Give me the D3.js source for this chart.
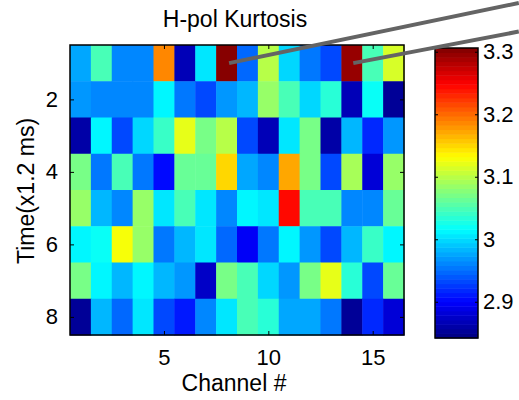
<!DOCTYPE html>
<html>
<head>
<meta charset="utf-8">
<script src="https://cdn.jsdelivr.net/npm/d3@7"></script>
<style>
  body { margin: 0; background: #fff; }
  svg { display: block; }
  text { font-family: "Liberation Sans", Arial, sans-serif; fill: #000; }
</style>
</head>
<body>
<div id="chart"></div>
<script>

// channels along x, time samples along y
var channels = d3.range(1, 17);
var times = d3.range(1, 9);

// kurtosis values, one row per time sample (row 1 = top)
var row1 = [2.977, 3.051, 2.958, 2.963, 3.185, 2.870, 3.002, 3.306, 2.944, 3.102, 2.995, 2.953, 2.935, 3.292, 3.051, 3.111];
var row2 = [2.967, 2.958, 2.958, 2.958, 3.016, 2.953, 2.935, 2.967, 2.986, 3.088, 3.051, 2.995, 3.032, 2.865, 3.018, 2.851];
var row3 = [2.861, 3.016, 2.935, 2.995, 3.042, 3.120, 3.069, 3.102, 2.930, 2.870, 3.004, 3.069, 2.861, 2.986, 2.916, 2.967];
var row4 = [3.069, 2.953, 3.051, 2.953, 2.907, 3.060, 3.060, 3.153, 2.977, 2.958, 3.171, 3.069, 2.930, 3.093, 2.879, 3.083];
var row5 = [3.083, 2.981, 2.958, 3.083, 3.002, 3.051, 3.002, 2.963, 3.016, 3.004, 3.241, 3.051, 3.051, 2.963, 2.958, 3.060];
var row6 = [3.011, 3.023, 3.125, 3.088, 2.953, 2.981, 3.002, 2.944, 2.900, 2.953, 3.016, 2.970, 2.935, 2.986, 3.042, 3.011];
var row7 = [3.074, 3.016, 2.986, 3.011, 2.986, 2.970, 2.874, 3.069, 3.051, 2.995, 2.970, 3.069, 3.120, 3.032, 2.935, 3.060];
var row8 = [2.851, 2.986, 2.944, 3.002, 2.935, 2.912, 2.963, 3.002, 3.051, 3.032, 2.977, 2.977, 2.953, 2.851, 2.916, 2.879];
var rows = [row1, row2, row3, row4, row5, row6, row7, row8];

var xTicks = [5, 10, 15];
var yTicks = [2, 4, 6, 8];
var cTicks = [2.9, 3.0, 3.1, 3.2, 3.3];
var cRange = [2.842, 3.306];

// annotation arrows (data units: [channel, time])
var arrow1 = [[8.12, 1.0], [22.0, -0.66]];
var arrow2 = [[14.07, 1.0], [22.0, 0.13]];

var W = 519, H = 400;
var plot = {left: 70, right: 404, top: 45, bottom: 335};
var bar = {left: 435, right: 478, top: 48, bottom: 338};

var svg = d3.select("#chart").append("svg")
    .attr("width", W)
    .attr("height", H);

// set the ranges
var x = d3.scaleLinear().domain([0.5, 16.5]).range([plot.left, plot.right]);
var y = d3.scaleLinear().domain([0.5, 8.5]).range([plot.top, plot.bottom]);
var cy = d3.scaleLinear().domain(cRange).range([bar.bottom, bar.top]);

// matlab jet, 64 levels
function jet(v) {
  var t = (v - cRange[0]) / (cRange[1] - cRange[0]);
  t = Math.max(0, Math.min(1, t));
  t = (Math.min(63, Math.floor(t * 64)) + 0.5) / 64;
  var c = function(k) { return Math.round(255 * Math.max(0, Math.min(1, 1.5 - Math.abs(4 * t - k)))); };
  return "rgb(" + c(3) + "," + c(2) + "," + c(1) + ")";
}

// format the data
var cells = [];
rows.forEach(function(r, i) {
  r.forEach(function(v, j) {
    cells.push({ch: channels[j], t: times[i], v: v});
  });
});

// heatmap cells
svg.append("g").selectAll("rect")
    .data(cells)
  .enter().append("rect")
    .attr("x", function(d) { return x(d.ch - 0.5); })
    .attr("y", function(d) { return y(d.t - 0.5); })
    .attr("width", x(1.5) - x(0.5) + 0.5)
    .attr("height", y(1.5) - y(0.5) + 0.5)
    .attr("fill", function(d) { return jet(d.v); });

// axes, ticks pointing inward on all sides
var tl = 4;
svg.append("g")
    .attr("transform", "translate(0," + plot.bottom + ")")
    .call(d3.axisBottom(x).tickValues(xTicks).tickSizeInner(-tl).tickSizeOuter(0).tickPadding(14));
svg.append("g")
    .attr("transform", "translate(0," + plot.top + ")")
    .call(d3.axisTop(x).tickValues(xTicks).tickSizeInner(-tl).tickSizeOuter(0).tickFormat(""));
svg.append("g")
    .attr("transform", "translate(" + plot.left + ",0)")
    .call(d3.axisLeft(y).tickValues(yTicks).tickSizeInner(-tl).tickSizeOuter(0).tickPadding(12));
svg.append("g")
    .attr("transform", "translate(" + plot.right + ",0)")
    .call(d3.axisRight(y).tickValues(yTicks).tickSizeInner(-tl).tickSizeOuter(0).tickFormat(""));

svg.selectAll(".tick text")
    .attr("font-size", "22px")
    .attr("font-family", null);
svg.selectAll(".domain").remove();

svg.append("rect")
    .attr("x", plot.left)
    .attr("y", plot.top)
    .attr("width", plot.right - plot.left)
    .attr("height", plot.bottom - plot.top)
    .attr("fill", "none")
    .attr("stroke", "#000")
    .attr("stroke-width", 1.5);

// colorbar
var levels = d3.range(64).map(function(i) { return cRange[0] + (i + 0.5) * (cRange[1] - cRange[0]) / 64; });
var step = (cRange[1] - cRange[0]) / 64;
svg.append("g").selectAll("rect")
    .data(levels)
  .enter().append("rect")
    .attr("x", bar.left)
    .attr("width", bar.right - bar.left)
    .attr("y", function(d) { return cy(d + step / 2); })
    .attr("height", function(d) { return cy(d - step / 2) - cy(d + step / 2) + 0.5; })
    .attr("fill", function(d) { return jet(d); });

svg.append("g")
    .attr("transform", "translate(" + bar.right + ",0)")
    .call(d3.axisRight(cy).tickValues(cTicks).tickSizeInner(-3).tickSizeOuter(0).tickPadding(5)
      .tickFormat(function(d) { return d3.format("~g")(+d.toFixed(1)); }))
    .selectAll("text")
      .attr("font-size", "22px")
      .attr("font-family", null);
svg.append("g")
    .attr("transform", "translate(" + bar.left + ",0)")
    .call(d3.axisLeft(cy).tickValues(cTicks).tickSizeInner(-3).tickSizeOuter(0).tickFormat(""));
svg.selectAll(".domain").remove();

svg.append("rect")
    .attr("x", bar.left)
    .attr("y", bar.top)
    .attr("width", bar.right - bar.left)
    .attr("height", bar.bottom - bar.top)
    .attr("fill", "none")
    .attr("stroke", "#000")
    .attr("stroke-width", 1.5);

// TEXT LABELS
// ========================
svg.append("text")
    .attr("x", (plot.left + plot.right) / 2 - 2)
    .attr("y", 27)
    .attr("text-anchor", "middle")
    .attr("font-size", "23px")
    .text("H-pol Kurtosis");

svg.append("text")
    .attr("x", (plot.left + plot.right) / 2 - 3)
    .attr("y", 391)
    .attr("text-anchor", "middle")
    .attr("font-size", "23px")
    .text("Channel #");

svg.append("text")
    .attr("transform", "translate(34," + ((plot.top + plot.bottom) / 2 + 1) + ") rotate(-90)")
    .attr("text-anchor", "middle")
    .attr("font-size", "23px")
    .text("Time(x1.2 ms)");

// annotation arrows
[arrow1, arrow2].forEach(function(a) {
  svg.append("line")
      .attr("x1", x(a[0][0]))
      .attr("y1", y(a[0][1]))
      .attr("x2", x(a[1][0]))
      .attr("y2", y(a[1][1]))
      .attr("stroke", "#646464")
      .attr("stroke-width", 4);
});

</script>
</body>
</html>
